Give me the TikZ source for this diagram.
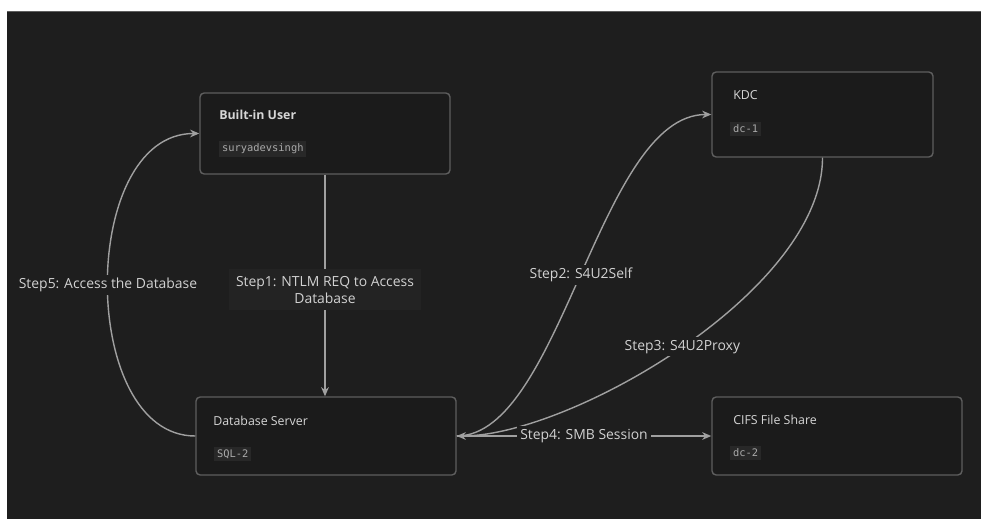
\documentclass[tikz,border=0pt]{standalone}
\usepackage{fontspec}
\setmainfont{Open Sans}
\setmonofont{DejaVu Sans Mono}
\usetikzlibrary{arrows.meta}
\definecolor{canvas}{HTML}{1E1E1E}
\definecolor{boxline}{HTML}{5E5E5E}
\definecolor{boxfill}{HTML}{1B1B1B}
\definecolor{titletext}{HTML}{D6D6D6}
\definecolor{subtext}{HTML}{AAAAAA}
\definecolor{subfill}{HTML}{282828}
\definecolor{linkgray}{HTML}{A0A0A0}
\definecolor{labeltext}{HTML}{D2D2D2}
\definecolor{stepfill}{HTML}{232323}
\tikzset{
  box/.style={draw=boxline, fill=boxfill, line width=1pt, rounded corners=3pt, inner sep=0pt},
  boxtitle/.style={anchor=west, text=titletext, font=\fontsize{8.8}{10}\selectfont, inner sep=0pt},
  boxsub/.style={anchor=west, fill=subfill, text=subtext, font=\ttfamily\fontsize{7.4}{8}\selectfont, inner sep=2pt},
  link/.style={draw=linkgray, line width=1pt, -{Stealth[length=6.5pt, width=5.5pt]}},
  linklabel/.style={fill=canvas, text=labeltext, font=\fontsize{9.9}{12}\selectfont, inner sep=2pt, align=center},
}

\begin{document}
\begin{tikzpicture}[x=0.025cm, y=-0.025cm]
\useasboundingbox (0,0) rectangle (981,519);
\fill[white] (0,0) rectangle (981,519);
\fill[canvas] (7,11) rectangle (981,519);
\draw[boxline, line width=0.6pt] (7,11.3) -- (981,11.3);

\node[box, minimum width=6.25cm, minimum height=2.025cm] (user) at (325,133.5) {};
\node[boxtitle, font=\bfseries\fontsize{8.8}{10}\selectfont] (usertitle) at (219,115) {Built-in User};
\node[boxsub] (usersub) at (219,149) {suryadevsingh};

\node[box, minimum width=5.525cm, minimum height=2.125cm] (kdc) at (822.5,114.5) {};
\node[boxtitle] (kdctitle) at (733,95) {KDC};
\node[boxsub] (kdcsub) at (730,129) {dc-1};

\node[box, minimum width=6.5cm, minimum height=1.95cm] (db) at (326,436) {};
\node[boxtitle] (dbtitle) at (213,421) {Database Server};
\node[boxsub] (dbsub) at (214,454) {SQL-2};

\node[box, minimum width=6.25cm, minimum height=1.95cm] (cifs) at (837,436) {};
\node[boxtitle] (cifstitle) at (733,420) {CIFS File Share};
\node[boxsub] (cifssub) at (730,453) {dc-2};

\draw[link] (user.south) -- node[linklabel, fill=stepfill, inner sep=5pt, yshift=-3pt] {Step1: NTLM REQ to Access\\Database} (user.south |- db.north);
\draw[link] (db.west) .. controls +(-117,0) and +(-121,0) .. node[linklabel] {Step5: Access the Database} (user.west);
\draw[link] (db.east) .. controls +(104,0) and +(-112,0) .. node[linklabel] {Step2: S4U2Self} (kdc.west);
\draw[link] (kdc.south) .. controls +(0,133) and +(114,0) .. node[linklabel] {Step3: S4U2Proxy} (db.east);
\draw[link] (db.east) -- node[linklabel] {Step4: SMB Session} (cifs.west);
\end{tikzpicture}
\end{document}
